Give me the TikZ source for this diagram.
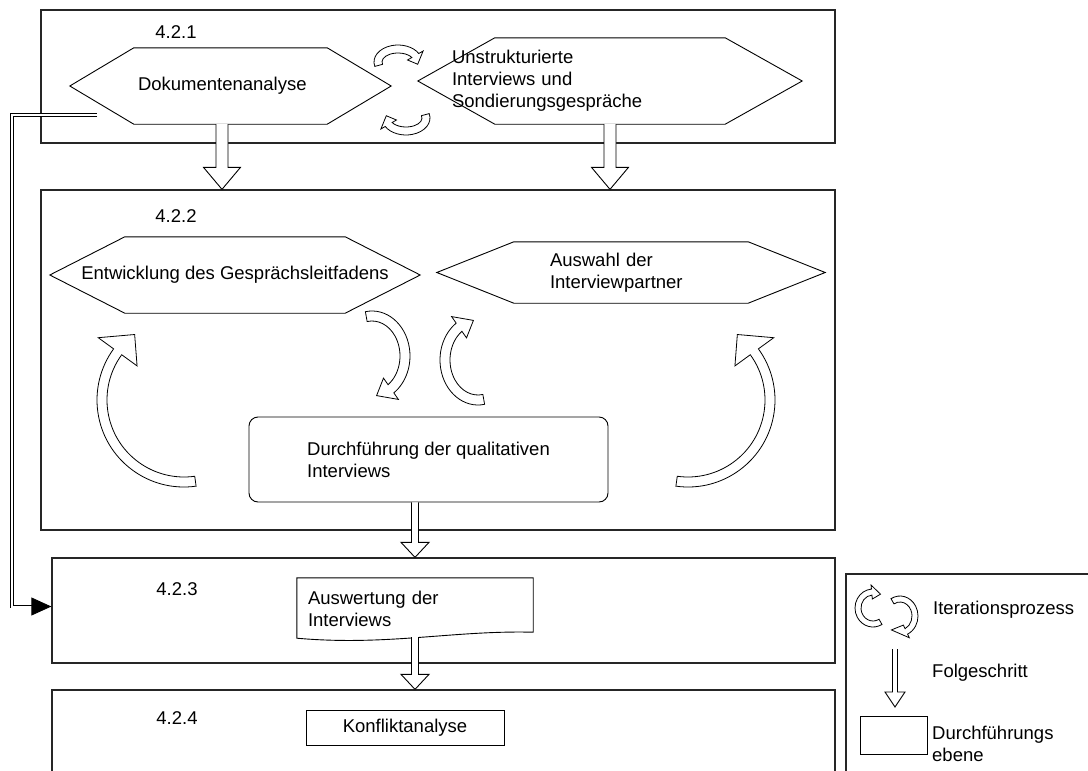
\documentclass[tikz,border=0pt]{standalone}
\usepackage{fontspec}
\setmainfont{Liberation Sans}
\usepackage{tikz}
\usetikzlibrary{calc,arrows.meta}

\begin{document}
\begin{tikzpicture}[x=1pt,y=-1pt,font=\fontsize{18.5}{22}\selectfont]
\tikzstyle{stage}=[draw=black!85,line width=1.3pt,inner sep=0pt]
\tikzstyle{hexa}=[inner sep=0pt]
\tikzstyle{shapeline}=[draw=black,line width=0.9pt]
\tikzstyle{roundbox}=[draw=black,line width=0.9pt,rounded corners=9pt,inner sep=0pt,align=left]
\tikzstyle{fat}=[draw=black,fill=white,line width=0.9pt]
\tikzstyle{bent}=[draw=black,fill=white,line width=0.8pt]
\tikzstyle{dline}=[draw=black,double=white,double distance=2pt,line width=0.8pt,-{Triangle[length=20pt,width=18pt]}]
\tikzstyle{num}=[inner sep=0pt]
\tikzstyle{legtext}=[inner sep=0pt,anchor=west,align=left]

\def\hexframe#1#2{\draw[shapeline] (#1.west) -- ([xshift=#2pt]#1.north west) -- ([xshift=-#2pt]#1.north east) -- (#1.east) -- ([xshift=-#2pt]#1.south east) -- ([xshift=#2pt]#1.south west) -- cycle;}
\def\fatarrow#1#2#3#4#5{\draw[fat] let \p1=(#1), \p2=(#2) in (\x1-#3pt,\y1) -- (\x1-#3pt,\y2+#5pt) -- (\x1-#4pt,\y2+#5pt) -- (\x1,\y2) -- (\x1+#4pt,\y2+#5pt) -- (\x1+#3pt,\y2+#5pt) -- (\x1+#3pt,\y1);}
\def\bentarrow#1#2#3#4#5#6#7#8{%
\pgfmathsetmacro\rxo{#2+#7}\pgfmathsetmacro\ryo{#3+#7}%
\pgfmathsetmacro\rxi{#2-#7}\pgfmathsetmacro\ryi{#3-#7}%
\pgfmathsetmacro\hxo{#2+#8}\pgfmathsetmacro\hyo{#3+#8}%
\pgfmathsetmacro\hxi{#2-#8}\pgfmathsetmacro\hyi{#3-#8}%
\draw[bent] ($(#1)+(#4:{\rxo} and {\ryo})$) arc[start angle=#4,end angle=#5,x radius=\rxo,y radius=\ryo]
  -- ($(#1)+(#5:{\hxo} and {\hyo})$) -- ($(#1)+(#6:{#2} and {#3})$) -- ($(#1)+(#5:{\hxi} and {\hyi})$)
  -- ($(#1)+(#5:{\rxi} and {\ryi})$) arc[start angle=#5,end angle=#4,x radius=\rxi,y radius=\ryi] -- cycle;}

\useasboundingbox (0,0) rectangle (1088,771);
\clip (0,0) rectangle (1088,771);

% stages
\node[stage,minimum width=794,minimum height=133] (box1) at (438,76.5) {};
\node[stage,minimum width=794,minimum height=340] (box2) at (438,360) {};
\node[stage,minimum width=783,minimum height=105] (box3) at (443.5,610.5) {};
\node[stage,minimum width=783,minimum height=110] (box4) at (443.5,745) {};
\node[stage,minimum width=254,minimum height=226] (legend) at (973,687) {};

\node[num] (n1) at (176,32) {4.2.1};
\node[num] (n2) at (176,216) {4.2.2};
\node[num] (n3) at (177,589) {4.2.3};
\node[num] (n4) at (177,718) {4.2.4};

% steps
\node[hexa,minimum width=321,minimum height=76,text width=185,align=left] (hexdoc) at (230.5,86) {Dokumentenanalyse};
\node[hexa,minimum width=384,minimum height=86,text width=316,align=left] (hexint) at (610,81) {Unstrukturierte\\Interviews und\\Sondierungsgespräche};
\node[hexa,minimum width=370,minimum height=76] (hexleit) at (235,275) {Entwicklung des Gesprächsleitfadens};
\node[hexa,minimum width=388,minimum height=61,text width=162,align=left] (hexwahl) at (631,272.5) {Auswahl der\\Interviewpartner};
\hexframe{hexdoc}{64}
\hexframe{hexint}{77}
\hexframe{hexleit}{75}
\hexframe{hexwahl}{77}

\node[roundbox,minimum width=359,minimum height=85] (durchf) at (428.5,459.5) {Durchführung der qualitativen\\Interviews};
\node[inner sep=0pt,minimum width=236,minimum height=62,text width=214,align=left] (auswert) at (415,609) {Auswertung der\\Interviews};
\draw[shapeline] (auswert.north west) -- (auswert.north east) -- ([yshift=8pt]auswert.south east) .. controls ([xshift=-80pt,yshift=10pt]auswert.south east) and ([xshift=90pt,yshift=-6pt]auswert.south west) .. ([yshift=2pt]auswert.south west) -- cycle;
\node[shapeline,minimum width=198,minimum height=35,inner sep=0pt] (konflikt) at (405,727.5) {Konfliktanalyse};

% next steps
\fatarrow{[xshift=-8.5pt]hexdoc.south}{box2.north}{6}{18.5}{22}
\fatarrow{hexint.south}{box2.north}{6}{18.5}{22}
\fatarrow{durchf.south -| auswert.north}{box3.north}{3.5}{14}{15}
\fatarrow{[yshift=3pt]auswert.south}{box4.north}{3.5}{14}{15}

\coordinate (dstart) at (97,115);
\coordinate (dturn) at (12,115);
\draw[dline] (dstart) -- (dturn) |- ([yshift=4pt]box3.west);

% iterations
\coordinate (ca) at (184,400);
\coordinate (cb) at (688,400);
\coordinate (cc) at (372,356);
\coordinate (cd) at (478,360);
\coordinate (ce) at (398,62);
\coordinate (cf) at (406,118);
\bentarrow{ca}{82}{82}{82}{216}{233}{5}{24}
\bentarrow{cb}{82}{82}{98}{-36}{-53}{5}{24}
\bentarrow{cc}{33}{40}{-100}{55}{82}{5}{13}
\bentarrow{cd}{33}{40}{80}{235}{262}{5}{13}
\bentarrow{ce}{20}{13}{165}{330}{370}{4}{9}
\bentarrow{cf}{20}{13}{345}{510}{550}{4}{9}

% legend
\coordinate (cg) at (873,608);
\coordinate (ch) at (900,616);
\bentarrow{cg}{15}{16}{60}{265}{300}{3}{7}
\bentarrow{ch}{15}{17}{240}{425}{485}{3}{7}
\node[legtext] (legiter) at (933,610) {Iterationsprozess};
\coordinate (legtop) at (895,649);
\coordinate (legtip) at (895,707);
\fatarrow{legtop}{legtip}{2.5}{10}{15}
\node[legtext] (legfolge) at (932,673) {Folgeschritt};
\node[draw,line width=0.9pt,minimum width=67,minimum height=38,inner sep=0pt] (legbox) at (893.5,735) {};
\node[legtext] (legdurch) at (932,744) {Durchführungs\\ebene};
\end{tikzpicture}
\end{document}
